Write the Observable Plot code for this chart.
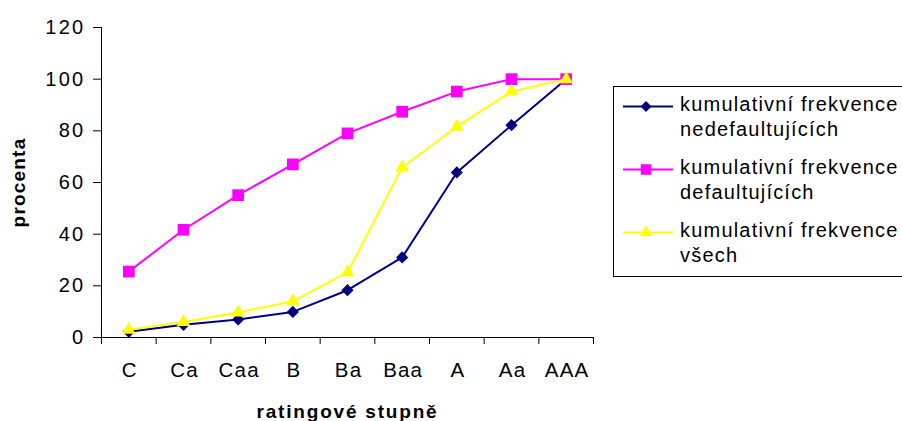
<!DOCTYPE html>
<html>
<head>
<meta charset="utf-8">
<script src="https://cdn.jsdelivr.net/npm/d3@7"></script>
<script src="https://cdn.jsdelivr.net/npm/@observablehq/plot@0.6"></script>
<style>
  html, body { margin: 0; padding: 0; background: #fff; overflow: hidden; }
  #wrap { position: relative; width: 902px; height: 421px; overflow: hidden; font-family: "Liberation Sans", Arial, sans-serif; }
  #legend {
    position: absolute; left: 613px; top: 86px; width: 320px; height: 191px;
    box-sizing: border-box; border: 1px solid #000; background: #fff;
  }
  .entry { position: absolute; left: 0; }
  .entry svg { position: absolute; left: 8px; top: 0; }
  .entry .txt {
    position: absolute; left: 66px; top: 0; white-space: nowrap;
    font-size: 20px; line-height: 25px; letter-spacing: 1.2px; color: #000;
  }
</style>
</head>
<body>
<div id="wrap"><div id="legend"></div></div>
<script>
// rating grades, weakest to strongest
const ratings = ["C", "Ca", "Caa", "B", "Ba", "Baa", "A", "Aa", "AAA"];
// cumulative frequencies (%)
const nondefaulting = [2.2, 4.9, 7, 9.9, 18.3, 31, 63.9, 82.2, 100];
const defaulting = [25.5, 41.7, 55.1, 67, 79, 87.4, 95.2, 100, 100];
const allFirms = [3, 6, 9.7, 14, 25.2, 65.8, 81.6, 95.2, 100];
const yTicks = [0, 20, 40, 60, 80, 100, 120];

const yTitle = "procenta";
const xTitle = "ratingové stupně";
const seriesNames = [
  ["kumulativní frekvence", "nedefaultujících"],
  ["kumulativní frekvence", "defaultujících"],
  ["kumulativní frekvence", "všech"]
];
const seriesColors = ["#000080", "#ff00ff", "#ffff00"];
const seriesSymbols = ["diamond2", "square", "triangle"];
const seriesR = [5.5, 6.6, 5.1];
const seriesValues = [nondefaulting, defaulting, allFirms];

const rows = seriesValues.map((vals, s) =>
  vals.map((v, i) => ({s, i, pos: i + 0.5, v}))
);
const bounds = d3.range(ratings.length + 1);

const marks = [
  Plot.axisY({ticks: yTicks, tickSize: 8, tickPadding: 8, label: null, fontSize: 20}),
  Plot.axisX({ticks: bounds, tickSize: 7, tickFormat: () => "", label: null}),
  Plot.axisX({ticks: ratings.map((_, i) => i + 0.5), tickSize: 0, tickPadding: 25, dx: 1,
    tickFormat: d => ratings[Math.floor(d)], label: null, fontSize: 20.5}),
  Plot.ruleX([0], {y1: 0, y2: 120, stroke: "#000"}),
  Plot.ruleY([0], {x1: 0, x2: ratings.length, stroke: "#000"}),
  Plot.text([yTitle], {frameAnchor: "left", textAnchor: "middle", lineAnchor: "middle", dx: -83, rotate: -90,
    fontWeight: "bold", fontSize: 19}),
  Plot.text([xTitle], {frameAnchor: "bottom", textAnchor: "middle", lineAnchor: "middle", dy: 74,
    fontWeight: "bold", fontSize: 19})
];
rows.forEach((data, s) => {
  marks.push(Plot.line(data, {x: "pos", y: "v", stroke: seriesColors[s], strokeWidth: 2}));
  marks.push(Plot.dot(data, {x: "pos", y: "v", symbol: () => seriesSymbols[s], r: seriesR[s], fill: seriesColors[s], stroke: "none"}));
});

const chart = Plot.plot({
  width: 902,
  height: 421,
  marginLeft: 101,
  marginRight: 309,
  marginTop: 27,
  marginBottom: 84,
  x: {type: "linear", domain: [0, ratings.length], axis: null},
  y: {domain: [0, 120], axis: null},
  style: {fontFamily: "Liberation Sans, Arial, sans-serif", fontSize: "20px", color: "#000", background: "#fff"},
  marks
});
document.getElementById("wrap").prepend(chart);
chart.style.position = "absolute";
chart.style.left = "0";
chart.style.top = "0";

// wider letter spacing for the chart's texts
const svgSel = d3.select(chart);
svgSel.selectAll('g[aria-label="y-axis tick label"]').attr("letter-spacing", "2.3px");
svgSel.selectAll('g[aria-label="x-axis tick label"]').attr("letter-spacing", "1.2px");
svgSel.selectAll("text").each(function() {
  const t = this.textContent;
  if (t === yTitle) this.setAttribute("letter-spacing", "1.2px");
  if (t === xTitle) this.setAttribute("letter-spacing", "1.8px");
});

// legend entries
const legend = d3.select("#legend");
seriesNames.forEach((lines, s) => {
  const e = legend.append("div").attr("class", "entry").style("top", (5 + s * 63) + "px");
  const svg = e.append("svg").attr("width", 52).attr("height", 25);
  svg.append("line").attr("x1", 1).attr("x2", 51).attr("y1", 14.5).attr("y2", 14.5)
    .attr("stroke", seriesColors[s]).attr("stroke-width", 2);
  const sym = {diamond2: d3.symbolDiamond2, square: d3.symbolSquare, triangle: d3.symbolTriangle}[seriesSymbols[s]];
  const rr = seriesR[s] * 0.9;
  svg.append("path").attr("transform", "translate(24,14.5)")
    .attr("d", d3.symbol(sym, Math.PI * rr * rr)())
    .attr("fill", seriesColors[s]);
  e.append("div").attr("class", "txt").html(lines.join("<br>"));
});
</script>
</body>
</html>
